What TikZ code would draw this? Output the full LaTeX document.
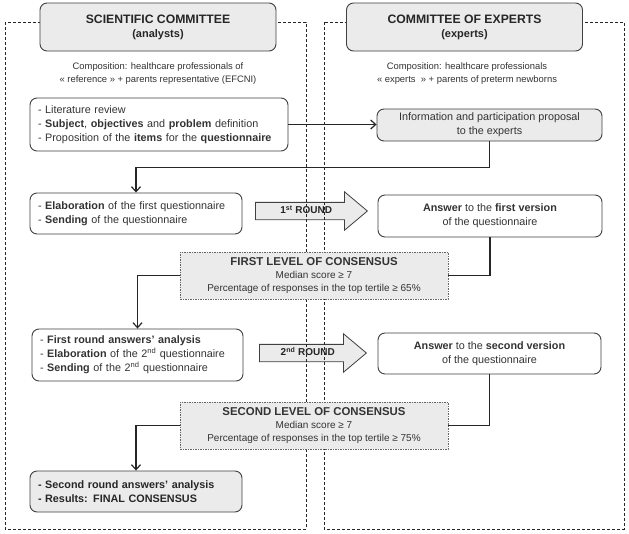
\documentclass[tikz,border=0pt]{standalone}
\usepackage{fontspec}
\setmainfont{Liberation Sans}
\usetikzlibrary{arrows.meta,shapes.arrows}
\definecolor{boxgray}{HTML}{EBEBEB}
\definecolor{linegray}{HTML}{404040}

\begin{document}
\begin{tikzpicture}[x=1pt,y=-1pt,>={Straight Barb[length=5pt,width=9pt]},
  frame/.style={draw=black!85,dash pattern=on 3pt off 2pt,line width=0.8pt},
  title/.style={draw=linegray,fill=boxgray,rounded corners=7pt,line width=0.9pt,minimum width=236pt,minimum height=48pt,align=center,text=black!85},
  comp/.style={align=center,font=\fontsize{9.4}{13}\selectfont,text=black!80},
  cell/.style={draw=linegray,rounded corners=7pt,line width=0.9pt,align=left,inner xsep=8pt,font=\fontsize{10.8}{14}\selectfont,text=black!80},
  answer/.style={draw=linegray,rounded corners=7pt,line width=0.9pt,align=center,font=\fontsize{10.8}{14}\selectfont,text=black!80},
  consensus/.style={draw=black!60,fill=boxgray,dash pattern=on 1.5pt off 1pt,line width=0.5pt,minimum width=268pt,minimum height=47pt,align=center,font=\fontsize{10}{13}\selectfont,text=black!80},
  roundarrow/.style={single arrow,draw=linegray,fill=boxgray,line width=0.8pt,single arrow head extend=10.5pt,single arrow tip angle=80,single arrow head indent=0pt,inner ysep=4.5pt,text height=6.5pt,text depth=1pt,font=\bfseries\fontsize{10}{12}\selectfont,text=black!85},
  link/.style={draw=black!85,line width=1.2pt}]
\fill[white] (0,0) rectangle (629,533);
\useasboundingbox (0,0) rectangle (629,533);

% rounds, under the frames
\node[roundarrow,minimum height=112pt,anchor=tail] (round1) at (255,211) {1\textsuperscript{st} ROUND};
\node[roundarrow,minimum height=107pt,anchor=tail] (round2) at (259,353) {2\textsuperscript{nd} ROUND};

% the two committees
\draw[frame] (5,22) rectangle (306,529);
\draw[frame] (324,22) rectangle (624,529);
\node[title] (sci) at (158,27) {{\bfseries\fontsize{12.2}{14}\selectfont SCIENTIFIC COMMITTEE}\\[2pt]{\bfseries\fontsize{11}{13}\selectfont (analysts)}};
\node[title] (exp) at (464.5,27) {{\bfseries\fontsize{12.2}{14}\selectfont COMMITTEE OF EXPERTS}\\[2pt]{\bfseries\fontsize{11}{13}\selectfont (experts)}};
\node[comp] (scicomp) at (158,74) {Composition: healthcare professionals of\\« reference » + parents representative (EFCNI)};
\node[comp] (expcomp) at (467,74) {Composition: healthcare professionals\\« experts ~» + parents of preterm newborns};

% left column
\node[cell,minimum width=258pt,text width=242pt,minimum height=53pt] (lit) at (159,124.5) {- Literature review\\- \textbf{Subject}, \textbf{objectives} and \textbf{problem} definition\\- Proposition of the \textbf{items} for the \textbf{questionnaire}};
\node[cell,minimum width=212pt,text width=196pt,minimum height=41pt] (first) at (136,213.5) {- \textbf{Elaboration} of the first questionnaire\\- \textbf{Sending} of the questionnaire};
\node[cell,minimum width=211pt,text width=195pt,minimum height=52pt] (second) at (137.5,355) {- \textbf{First round answers’ analysis}\\- \textbf{Elaboration} of the 2\textsuperscript{nd} questionnaire\\- \textbf{Sending} of the 2\textsuperscript{nd} questionnaire};
\node[cell,fill=boxgray,minimum width=212pt,text width=196pt,minimum height=41pt,font=\bfseries\fontsize{10.8}{14}\selectfont,text=black!85] (final) at (136,491.5) {- Second round answers’ analysis\\- Results: FINAL CONSENSUS};

% right column
\node[answer,fill=boxgray,minimum width=225pt,minimum height=32pt] (info) at (489.5,125) {Information and participation proposal\\to the experts};
\node[answer,minimum width=224pt,minimum height=42pt] (ans1) at (490,216) {\textbf{Answer} to the \textbf{first version}\\of the questionnaire};
\node[answer,minimum width=223pt,minimum height=41pt] (ans2) at (489.5,353.5) {\textbf{Answer} to the \textbf{second version}\\of the questionnaire};

% consensus levels
\node[consensus] (cons1) at (314,275.5) {{\bfseries\fontsize{11.4}{13}\selectfont FIRST LEVEL OF CONSENSUS}\\Median score ≥ 7\\Percentage of responses in the top tertile ≥ 65\%};
\node[consensus] (cons2) at (314,425.5) {{\bfseries\fontsize{11.4}{13}\selectfont SECOND LEVEL OF CONSENSUS}\\Median score ≥ 7\\Percentage of responses in the top tertile ≥ 75\%};

% links
\draw[link,->] (lit.east) -- (lit.east -| info.west);
\draw[link,->] (info.south) -- ++(0,26) -| (first.north);
\draw[link] (ans1.south) |- (cons1.east);
\draw[link,->] (cons1.west) -| (second.north);
\draw[link] (ans2.south) |- (cons2.east);
\draw[link,->] (cons2.west) -| (final.north);
\end{tikzpicture}
\end{document}
